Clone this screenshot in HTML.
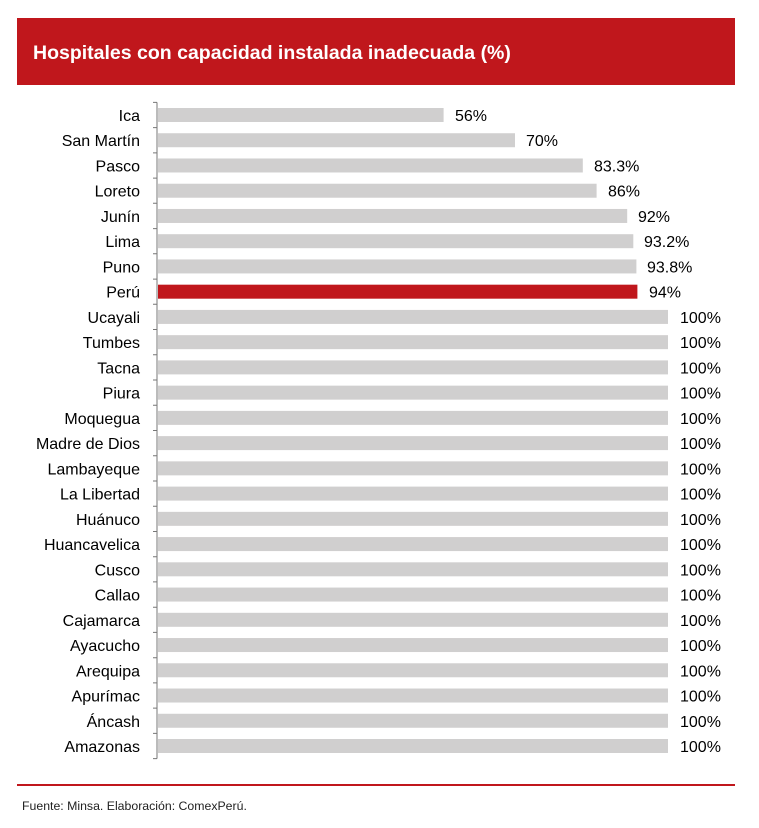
<!DOCTYPE html>
<html><head><meta charset="utf-8"><style>
body{margin:0;background:#fff;}
svg{display:block;font-family:"Liberation Sans",Arial,sans-serif;}
.g{fill:#d0cfcf}.l{text-anchor:end}
</style></head><body>
<svg width="759" height="828" viewBox="0 0 759 828">
<rect x="17" y="18" width="718" height="67" fill="#c0171c"/>
<text x="33" y="59" fill="#fff" font-size="19.5" font-weight="bold">Hospitales con capacidad instalada inadecuada (%)</text>
<g font-size="16" fill="#000">
<g transform="translate(0,115)"><rect x="158" y="-7" width="285.6" height="14" class="g"/><text x="140" y="6" class="l">Ica</text><text x="455" y="6">56%</text></g>
<g transform="translate(0,140.24)"><rect x="158" y="-7" width="357" height="14" class="g"/><text x="140" y="6" class="l">San Martín</text><text x="526" y="6">70%</text></g>
<g transform="translate(0,165.48)"><rect x="158" y="-7" width="424.8" height="14" class="g"/><text x="140" y="6" class="l">Pasco</text><text x="594" y="6">83.3%</text></g>
<g transform="translate(0,190.72)"><rect x="158" y="-7" width="438.6" height="14" class="g"/><text x="140" y="6" class="l">Loreto</text><text x="608" y="6">86%</text></g>
<g transform="translate(0,215.96)"><rect x="158" y="-7" width="469.2" height="14" class="g"/><text x="140" y="6" class="l">Junín</text><text x="638" y="6">92%</text></g>
<g transform="translate(0,241.2)"><rect x="158" y="-7" width="475.3" height="14" class="g"/><text x="140" y="6" class="l">Lima</text><text x="644" y="6">93.2%</text></g>
<g transform="translate(0,266.44)"><rect x="158" y="-7" width="478.4" height="14" class="g"/><text x="140" y="6" class="l">Puno</text><text x="647" y="6">93.8%</text></g>
<g transform="translate(0,291.68)"><rect x="158" y="-7" width="479.4" height="14" fill="#c0171c"/><text x="140" y="6" class="l">Perú</text><text x="649" y="6">94%</text></g>
<g transform="translate(0,316.92)"><rect x="158" y="-7" width="510" height="14" class="g"/><text x="140" y="6" class="l">Ucayali</text><text x="680" y="6">100%</text></g>
<g transform="translate(0,342.16)"><rect x="158" y="-7" width="510" height="14" class="g"/><text x="140" y="6" class="l">Tumbes</text><text x="680" y="6">100%</text></g>
<g transform="translate(0,367.4)"><rect x="158" y="-7" width="510" height="14" class="g"/><text x="140" y="6" class="l">Tacna</text><text x="680" y="6">100%</text></g>
<g transform="translate(0,392.64)"><rect x="158" y="-7" width="510" height="14" class="g"/><text x="140" y="6" class="l">Piura</text><text x="680" y="6">100%</text></g>
<g transform="translate(0,417.88)"><rect x="158" y="-7" width="510" height="14" class="g"/><text x="140" y="6" class="l">Moquegua</text><text x="680" y="6">100%</text></g>
<g transform="translate(0,443.12)"><rect x="158" y="-7" width="510" height="14" class="g"/><text x="140" y="6" class="l">Madre de Dios</text><text x="680" y="6">100%</text></g>
<g transform="translate(0,468.36)"><rect x="158" y="-7" width="510" height="14" class="g"/><text x="140" y="6" class="l">Lambayeque</text><text x="680" y="6">100%</text></g>
<g transform="translate(0,493.6)"><rect x="158" y="-7" width="510" height="14" class="g"/><text x="140" y="6" class="l">La Libertad</text><text x="680" y="6">100%</text></g>
<g transform="translate(0,518.84)"><rect x="158" y="-7" width="510" height="14" class="g"/><text x="140" y="6" class="l">Huánuco</text><text x="680" y="6">100%</text></g>
<g transform="translate(0,544.08)"><rect x="158" y="-7" width="510" height="14" class="g"/><text x="140" y="6" class="l">Huancavelica</text><text x="680" y="6">100%</text></g>
<g transform="translate(0,569.32)"><rect x="158" y="-7" width="510" height="14" class="g"/><text x="140" y="6" class="l">Cusco</text><text x="680" y="6">100%</text></g>
<g transform="translate(0,594.56)"><rect x="158" y="-7" width="510" height="14" class="g"/><text x="140" y="6" class="l">Callao</text><text x="680" y="6">100%</text></g>
<g transform="translate(0,619.8)"><rect x="158" y="-7" width="510" height="14" class="g"/><text x="140" y="6" class="l">Cajamarca</text><text x="680" y="6">100%</text></g>
<g transform="translate(0,645.04)"><rect x="158" y="-7" width="510" height="14" class="g"/><text x="140" y="6" class="l">Ayacucho</text><text x="680" y="6">100%</text></g>
<g transform="translate(0,670.28)"><rect x="158" y="-7" width="510" height="14" class="g"/><text x="140" y="6" class="l">Arequipa</text><text x="680" y="6">100%</text></g>
<g transform="translate(0,695.52)"><rect x="158" y="-7" width="510" height="14" class="g"/><text x="140" y="6" class="l">Apurímac</text><text x="680" y="6">100%</text></g>
<g transform="translate(0,720.76)"><rect x="158" y="-7" width="510" height="14" class="g"/><text x="140" y="6" class="l">Áncash</text><text x="680" y="6">100%</text></g>
<g transform="translate(0,746)"><rect x="158" y="-7" width="510" height="14" class="g"/><text x="140" y="6" class="l">Amazonas</text><text x="680" y="6">100%</text></g>
</g>
<g stroke="#777" stroke-width="1">
<line x1="157" y1="102.4" x2="157" y2="758.6"/>
<path d="M153 102.4H157M153 127.6H157M153 152.9H157M153 178.1H157M153 203.3H157M153 228.6H157M153 253.8H157M153 279.1H157M153 304.3H157M153 329.5H157M153 354.8H157M153 380H157M153 405.3H157M153 430.5H157M153 455.7H157M153 481H157M153 506.2H157M153 531.5H157M153 556.7H157M153 581.9H157M153 607.2H157M153 632.4H157M153 657.7H157M153 682.9H157M153 708.1H157M153 733.4H157M153 758.6H157"/>
</g>
<line x1="17" y1="785" x2="735" y2="785" stroke="#c0171c" stroke-width="2"/>
<text x="22" y="810" font-size="12.3" fill="#222">Fuente: Minsa. Elaboración: ComexPerú.</text>
</svg>
</body></html>
